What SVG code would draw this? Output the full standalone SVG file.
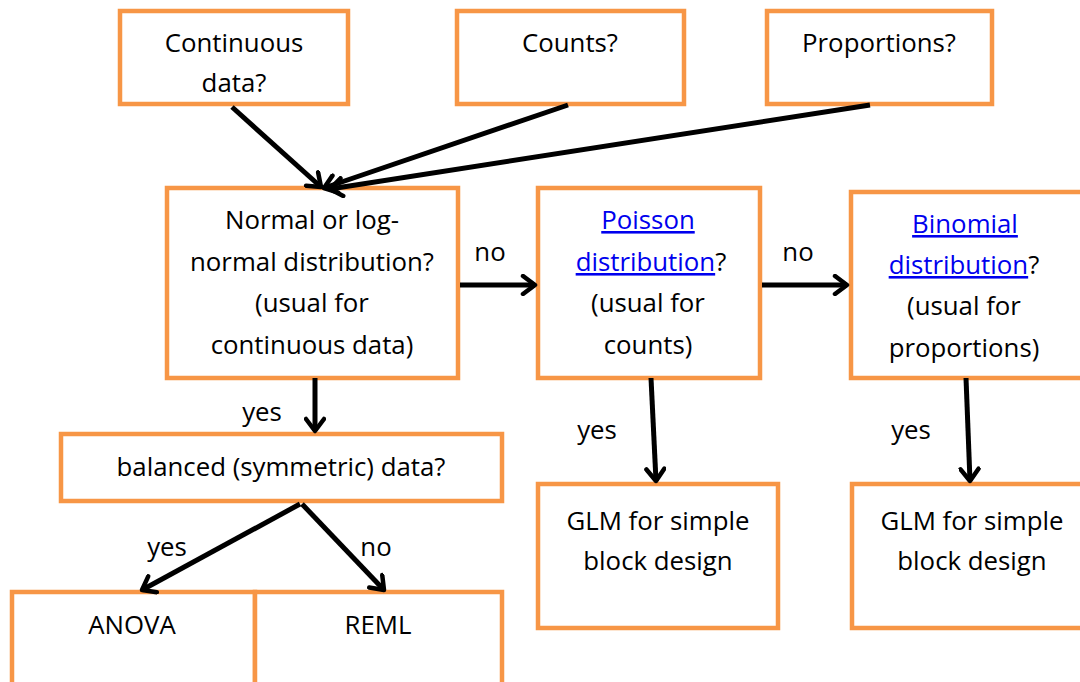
<svg xmlns="http://www.w3.org/2000/svg" width="1080" height="682" viewBox="0 0 1080 682">
<style>
.box{fill:#fff;stroke:#F79646;stroke-width:4.5}
.t{font-family:"Open Sans",Lato,"Liberation Sans",sans-serif;font-size:25.8px;fill:#000;text-anchor:middle}
.lnk{fill:#0000EE;text-decoration:underline}
.c{stroke:#000;stroke-width:5;fill:none;marker-end:url(#ah)}
</style>
<defs>
<marker id="ah" viewBox="0 0 18 22" refX="15" refY="11" markerWidth="18" markerHeight="22" markerUnits="userSpaceOnUse" orient="auto">
<path d="M3,2 L15,11 L3,20" fill="none" stroke="#000" stroke-width="4.5" stroke-linecap="round" stroke-linejoin="round"/>
</marker>
</defs>
<rect width="1080" height="682" fill="#fff"/>
<g id="n-continuous"><rect class="box" x="120" y="11" width="228" height="93"/><text class="t" x="234" y="52">Continuous</text><text class="t" x="234" y="92">data?</text></g>
<g id="n-counts"><rect class="box" x="457" y="11" width="227" height="93"/><text class="t" x="570" y="52">Counts?</text></g>
<g id="n-proportions"><rect class="box" x="767" y="11" width="225" height="93"/><text class="t" x="879" y="52">Proportions?</text></g>
<g id="n-normal"><rect class="box" x="167" y="188" width="291" height="190"/>
<text class="t" x="312" y="229">Normal or log-</text><text class="t" x="312" y="271">normal distribution?</text><text class="t" x="312" y="312">(usual for</text><text class="t" x="312" y="354">continuous data)</text></g>
<g id="n-poisson"><rect class="box" x="538" y="188" width="222" height="190"/>
<text class="t" x="648" y="229"><tspan class="lnk">Poisson</tspan></text><text class="t" x="651" y="271"><tspan class="lnk">distribution</tspan>?</text><text class="t" x="648" y="312">(usual for</text><text class="t" x="648" y="354">counts)</text></g>
<g id="n-binomial"><rect class="box" x="851" y="192" width="232" height="186"/>
<text class="t" x="965" y="233"><tspan class="lnk">Binomial</tspan></text><text class="t" x="964" y="274"><tspan class="lnk">distribution</tspan>?</text><text class="t" x="964" y="315">(usual for</text><text class="t" x="964" y="357">proportions)</text></g>
<g id="n-balanced"><rect class="box" x="61" y="434" width="441" height="67"/><text class="t" x="281" y="476">balanced (symmetric) data?</text></g>
<g id="n-anova"><rect class="box" x="12" y="592" width="243" height="100"/><text class="t" x="132" y="634">ANOVA</text></g>
<g id="n-reml"><rect class="box" x="255" y="592" width="247" height="100"/><text class="t" x="378" y="634">REML</text></g>
<g id="n-glm1"><rect class="box" x="538" y="484" width="240" height="144"/><text class="t" x="658" y="530">GLM for simple</text><text class="t" x="658" y="570">block design</text></g>
<g id="n-glm2"><rect class="box" x="852" y="484" width="232" height="144"/><text class="t" x="972" y="530">GLM for simple</text><text class="t" x="972" y="570">block design</text></g>
<g id="connectors">
<line class="c" x1="232" y1="107" x2="321" y2="187"/>
<line class="c" x1="568" y1="105" x2="324" y2="188"/>
<line class="c" x1="870" y1="105" x2="330" y2="189"/>
<line class="c" x1="460" y1="285" x2="535" y2="285"/>
<line class="c" x1="762" y1="285" x2="847" y2="285"/>
<line class="c" x1="315" y1="378" x2="315" y2="431"/>
<line class="c" x1="651" y1="378" x2="656" y2="481"/>
<line class="c" x1="966" y1="378" x2="970" y2="481"/>
<line class="c" x1="300" y1="504" x2="142" y2="590"/>
<line class="c" x1="302" y1="504" x2="384" y2="590"/>
<text class="t" x="490" y="261">no</text>
<text class="t" x="798" y="261">no</text>
<text class="t" x="262" y="421">yes</text>
<text class="t" x="597" y="439">yes</text>
<text class="t" x="911" y="439">yes</text>
<text class="t" x="167" y="556">yes</text>
<text class="t" x="376" y="556">no</text>
</g>
</svg>
